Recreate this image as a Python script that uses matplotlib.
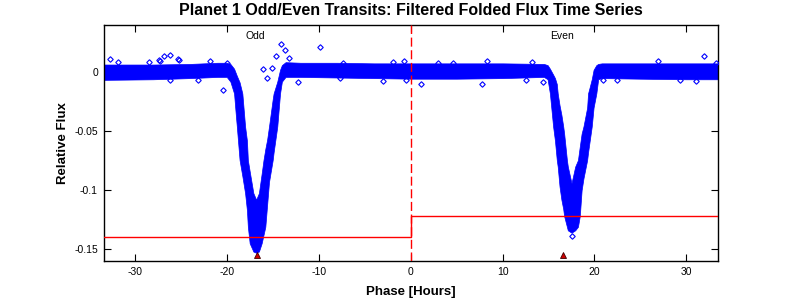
import matplotlib
matplotlib.use("Agg")
import matplotlib.pyplot as plt

plt.rcParams['font.family'] = ['Liberation Sans', 'DejaVu Sans']
plt.rcParams['axes.unicode_minus'] = False

# ---- data ----
# envelope of the dense folded-flux band (phase [h], upper flux, lower flux)
phase = [-33.4, -28.0, -24.0, -21.0, -20.0,
         -19.6, -19.4, -19.2, -19.0, -18.9, -18.6, -18.3, -18.0, -17.8, -17.7,
         -17.5, -17.1, -16.8, -16.5, -16.2, -16.0, -15.8, -15.6, -15.4, -15.0,
         -14.9, -14.5, -14.2, -14.0, -13.6,
         -12.0, -8.0, -4.0, 0.0, 5.0, 10.0, 14.5,
         14.9, 15.15, 15.5, 15.7, 15.9, 16.0, 16.2, 16.4, 16.6, 16.7, 17.0, 17.1,
         17.5, 17.9, 18.2, 18.4, 18.6, 18.8, 19.2, 19.3, 19.7, 19.9, 20.2, 20.4,
         20.8, 25.0, 30.0, 33.4]
flux_hi = [0.0065, 0.0065, 0.007, 0.008, 0.008,
           0.007, 0.005, 0.003, -0.001, -0.003, -0.0085, -0.018, -0.046, -0.058, -0.0745,
           -0.084, -0.1025, -0.108, -0.1025, -0.086, -0.0745, -0.065, -0.057, -0.046, -0.023,
           -0.018, -0.008, 0.002, 0.006, 0.0085,
           0.008, 0.008, 0.0075, 0.0075, 0.0075, 0.0075, 0.007,
           0.006, 0.003, -0.002, -0.005, -0.010, -0.018, -0.028, -0.036, -0.046, -0.052, -0.0745, -0.080,
           -0.094, -0.080, -0.0745, -0.063, -0.052, -0.046, -0.030, -0.018, -0.006, 0.002, 0.006, 0.007,
           0.0075, 0.0075, 0.0075, 0.0075]
flux_lo = [-0.0065, -0.006, -0.005, -0.004, -0.004,
           -0.008, -0.013, -0.018, -0.037, -0.046, -0.0745, -0.088, -0.1025, -0.117, -0.131,
           -0.145, -0.152, -0.153, -0.152, -0.145, -0.138, -0.131, -0.112, -0.093, -0.0745,
           -0.068, -0.046, -0.018, -0.008, -0.004,
           -0.004, -0.0045, -0.005, -0.0055, -0.0055, -0.005, -0.004,
           -0.006, -0.018, -0.046, -0.058, -0.0745, -0.080, -0.097, -0.108, -0.116, -0.122, -0.131, -0.134,
           -0.136, -0.134, -0.131, -0.122, -0.100, -0.090, -0.0745, -0.068, -0.046, -0.030, -0.018, -0.006,
           -0.005, -0.0055, -0.006, -0.006]

# isolated / edge points that stand out of the band
out_phase = [-20.35, -16.1, -15.1, -15.6, -14.13, -13.64, -14.64, -13.2, -9.8, -12.2,
             -32.7, -31.8, -26.8, -26.2, -27.4, -28.4, -25.2, -21.8,
             31.9, 31.0, 20.9, 7.8, 1.1, 14.35, 8.3, -0.7, 17.56,
             -27.3, -25.3, -20.0, -26.2, -23.1, -7.7, -3.0, -0.5, -7.3, -1.9,
             3.0, 4.6, 13.15, 12.6, 26.9, 33.2, 22.4, 29.3]
out_flux = [-0.0155, 0.0023, 0.0035, -0.0045, 0.0243, 0.0192, 0.0135, 0.012, 0.021, -0.0087,
            0.0116, 0.0087, 0.0135, 0.0144, 0.010, 0.0085, 0.010, 0.0093,
            0.0135, -0.0075, -0.0068, -0.0096, -0.0096, -0.0082, 0.0093, 0.0093, -0.139,
            0.0096, 0.011, 0.0074, -0.0062, -0.0068, -0.0053, -0.0073, -0.0068, 0.0082, 0.0087,
            0.0079, 0.0079, 0.0087, -0.0068, 0.0096, 0.0079, -0.0062, -0.0062]

# mean transit depth levels (odd / even) and transit epoch markers
odd_level = -0.14
even_level = -0.122
epoch_phase = [-16.74, 16.6]
epoch_flux = [-0.155, -0.1545]

xlim = (-33.4, 33.4)
ylim = (-0.16, 0.04)
xticks = [-30, -20, -10, 0, 10, 20, 30]
yticks = [-0.15, -0.1, -0.05, 0]
ytick_labels = ['-0.15', '-0.1', '-0.05', '0']
xtick_labels = ['-30', '-20', '-10', '0', '10', '20', '30']

# ---- figure ----
fig = plt.figure(figsize=(7.92, 3.0), dpi=100)
ax = fig.add_axes([103.5 / 792, 1 - 261 / 300, (717.7 - 103.5) / 792, (261 - 25) / 300])

blue = '#0000ff'
ax.fill_between(phase, flux_lo, flux_hi, facecolor=blue, edgecolor=blue, linewidth=0.5, zorder=2)
ax.plot(out_phase, out_flux, linestyle='none', marker='D', markersize=2.8, mfc='none', mec=blue, mew=0.8, zorder=3)

red = '#ff0000'
ax.plot([xlim[0], 0, 0, xlim[1]], [odd_level, odd_level, even_level, even_level],
        color=red, linewidth=1.0, zorder=4)
ax.axvline(0, color=red, linewidth=1.0, linestyle=(0, (6.5, 2.6)), zorder=4)
ax.plot(epoch_phase, epoch_flux, linestyle='none', marker='^', markersize=4.5,
        mfc='#cc0000', mec='#400000', mew=0.6, zorder=5)

ax.text(-16.9, 0.0305, 'Odd', ha='center', va='center', fontsize=7.5)
ax.text(16.5, 0.0305, 'Even', ha='center', va='center', fontsize=7.5)

ax.set_xlim(*xlim)
ax.set_ylim(*ylim)
ax.set_xticks(xticks)
ax.set_xticklabels(xtick_labels)
ax.set_yticks(yticks)
ax.set_yticklabels(ytick_labels)
ax.tick_params(direction='in', length=4.8, width=0.8, labelsize=7.5, top=True, right=True, pad=4)
for s in ax.spines.values():
    s.set_linewidth(1.0)

ax.set_title('Planet 1 Odd/Even Transits: Filtered Folded Flux Time Series',
             fontsize=11.5, fontweight='bold', pad=7)
ax.set_xlabel('Phase [Hours]', fontsize=9.5, fontweight='bold', labelpad=7)
ax.set_ylabel('Relative Flux', fontsize=9.5, fontweight='bold', labelpad=4)

fig.savefig('out.png', dpi=100, facecolor='white')
